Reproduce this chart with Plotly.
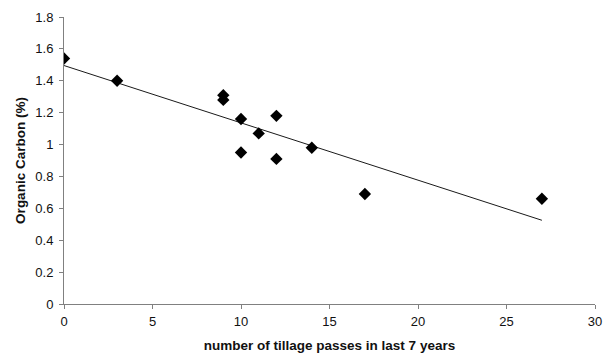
import numpy as np
import plotly.graph_objects as go

tillage_passes = [0, 3, 9, 9, 10, 10, 11, 12, 12, 14, 17, 27]
organic_carbon = [1.54, 1.40, 1.31, 1.28, 1.16, 0.95, 1.07, 1.18, 0.91, 0.98, 0.69, 0.66]

slope, intercept = np.polyfit(tillage_passes, organic_carbon, 1)
fit_x = [min(tillage_passes), max(tillage_passes)]
fit_y = [intercept + slope * v for v in fit_x]

fig = go.Figure()
fig.add_trace(go.Scatter(x=fit_x, y=fit_y, mode="lines",
                         line=dict(color="#1a1a1a", width=1), hoverinfo="skip"))
fig.add_trace(go.Scatter(x=tillage_passes, y=organic_carbon, mode="markers",
                         marker=dict(symbol="diamond", size=9.5, color="black")))

font = dict(family="Liberation Sans, Arial, sans-serif", size=13, color="#111111")
fig.update_layout(
    width=603, height=353,
    margin=dict(l=64, r=8, t=17, b=49),
    paper_bgcolor="white", plot_bgcolor="white",
    showlegend=False, font=font,
)
fig.update_xaxes(range=[0, 30], tickvals=[0, 5, 10, 15, 20, 25, 30],
                 showgrid=False, zeroline=False, showline=True, linecolor="#808080",
                 linewidth=1, ticks="outside", ticklen=4, tickcolor="#808080",
                 automargin=False, tickfont=dict(size=13), ticklabelstandoff=1,
                 title=dict(text="<b>number of tillage passes in last 7 years</b>", standoff=12,
                            font=dict(size=13.5)))
fig.update_yaxes(range=[0, 1.8], tickvals=[0, 0.2, 0.4, 0.6, 0.8, 1, 1.2, 1.4, 1.6, 1.8],
                 ticktext=["0", "0.2", "0.4", "0.6", "0.8", "1", "1.2", "1.4", "1.6", "1.8"],
                 showgrid=False, zeroline=False, showline=True, linecolor="#808080",
                 linewidth=1, ticks="outside", ticklen=4, tickcolor="#808080",
                 automargin=False, tickfont=dict(size=13), ticklabelstandoff=3,
                 title=dict(text="<b>Organic Carbon (%)</b>", standoff=6, font=dict(size=13.5)))
fig.write_html("out.html")
